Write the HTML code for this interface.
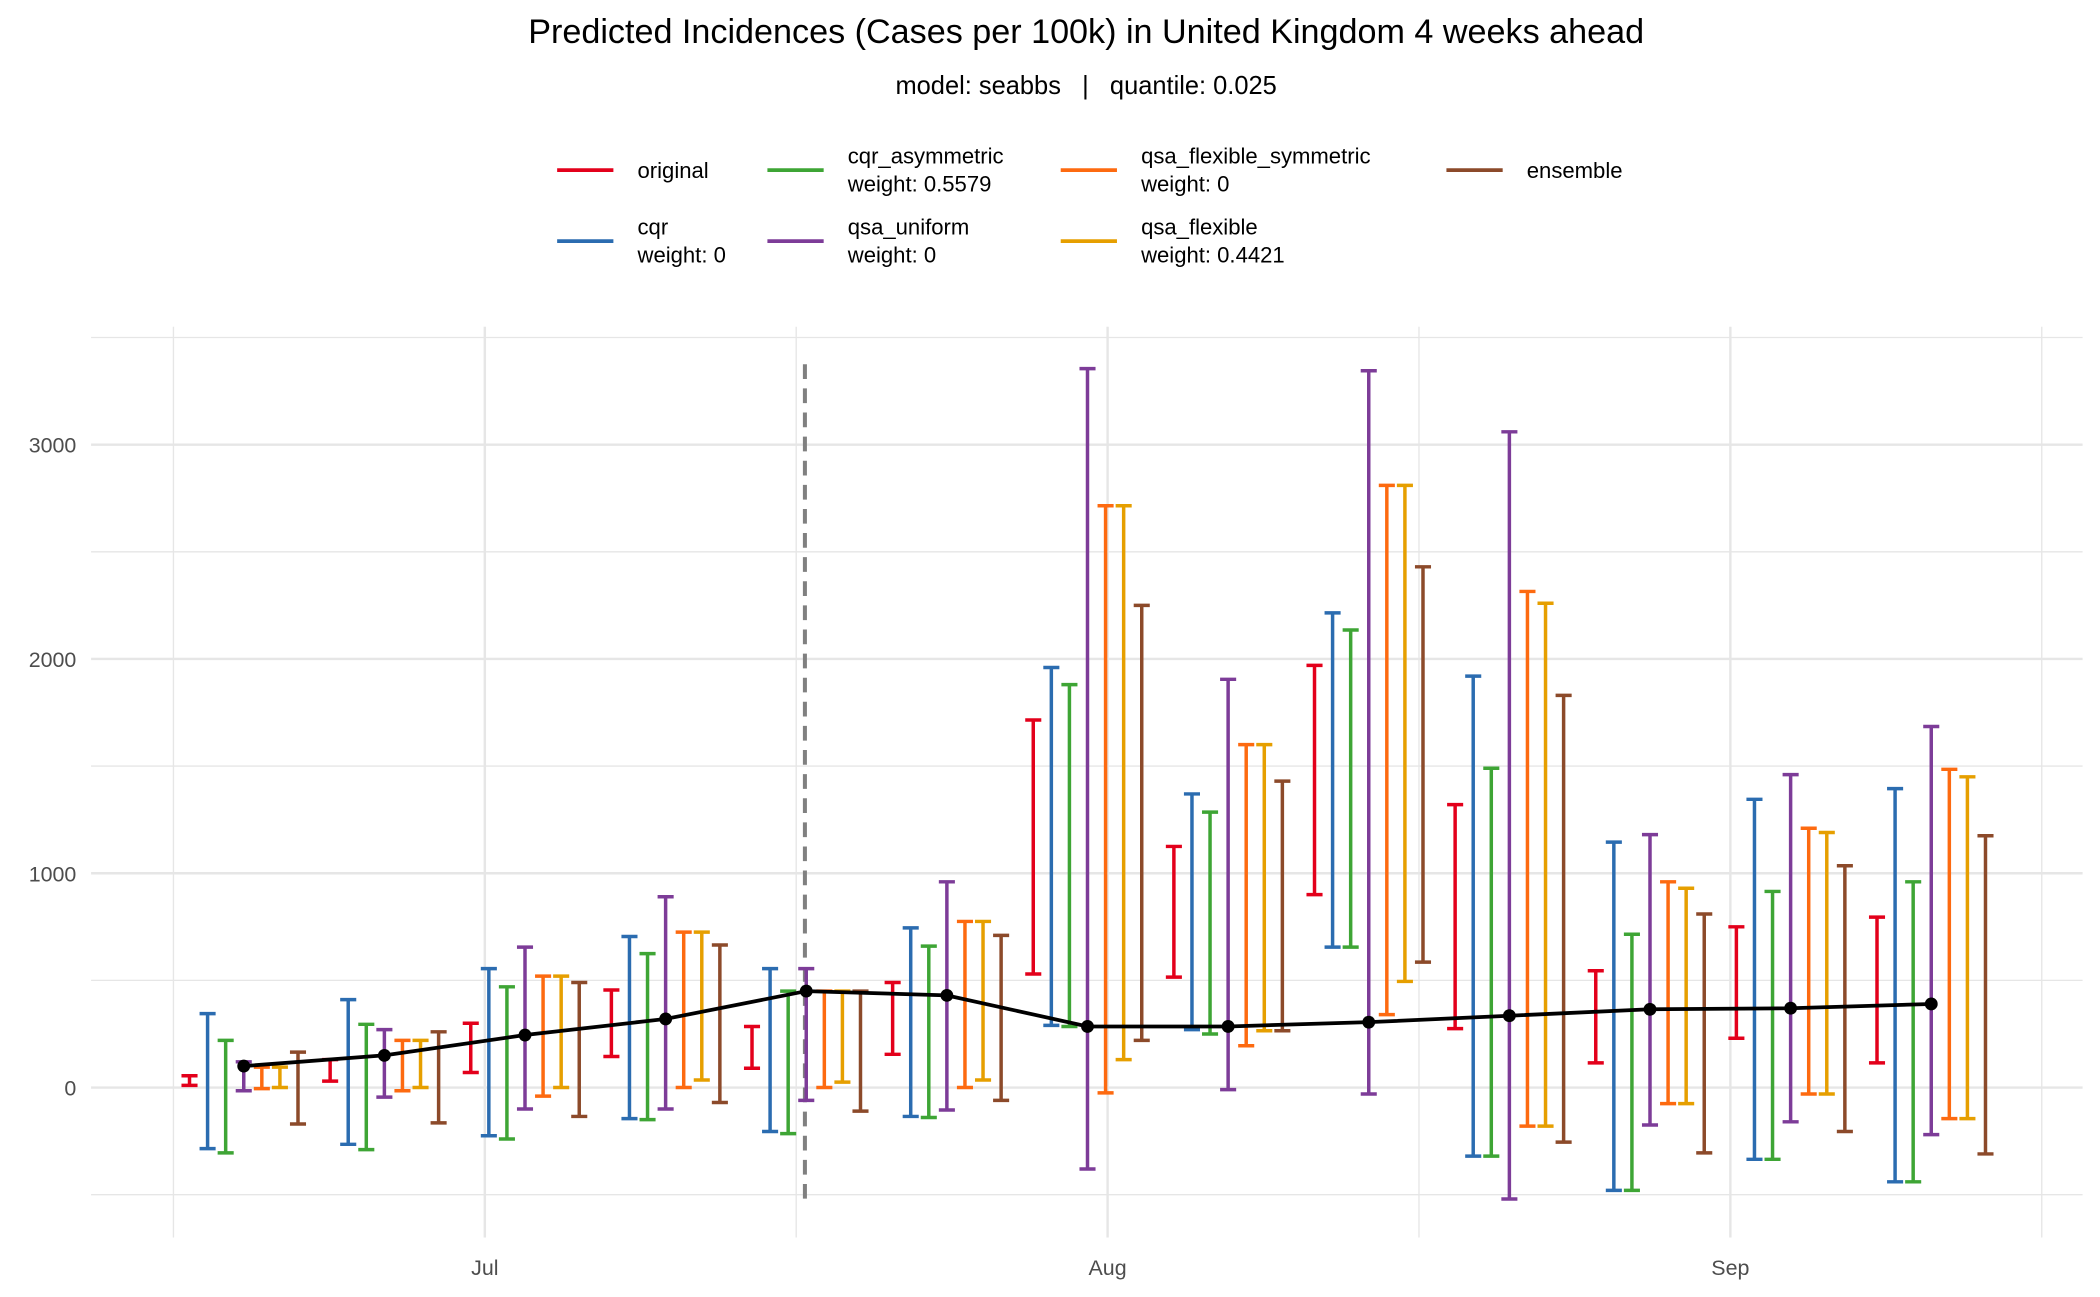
<!DOCTYPE html>
<html><head><meta charset="utf-8"><style>
html,body{margin:0;padding:0;background:#fff;}
svg{display:block;font-family:"Liberation Sans",Arial,sans-serif;}
</style></head><body>
<svg id="chart" width="2100" height="1297" viewBox="0 0 1568 968.4" xmlns="http://www.w3.org/2000/svg">
<text x="811" y="32" font-size="25.5" text-anchor="middle" fill="#000">Predicted Incidences (Cases per 100k) in United Kingdom 4 weeks ahead</text>
<text x="811" y="70" font-size="19" text-anchor="middle" fill="#000" style="white-space:pre" xml:space="preserve">model: seabbs   |   quantile: 0.025</text>
<g id="legend" fill="#000"></g>
<g id="grid"></g>
<g id="marks"></g>
</svg>
<script>
const days = [-12,-5,2,9,16,23,30,37,44,51,58,65,72];
const truth = [100,150,245,320,450,430,285,285,305,335,365,370,390];
const models = ["original","cqr","cqr_asymmetric","qsa_uniform","qsa_flexible_symmetric","qsa_flexible","ensemble"];
const weights = ["","weight: 0","weight: 0.5579","weight: 0","weight: 0","weight: 0.4421",""];
const colors = ["#e3001b","#2b6cb0","#3ea535","#7d3c98","#fd6a10","#e69f00","#8c4a2a"];
const lowOriginal = [10,30,70,145,90,155,530,515,900,275,115,230,115];
const upOriginal = [55,130,300,455,285,490,1715,1125,1970,1320,545,750,795];
const lowCqr = [-285,-265,-225,-145,-205,-135,290,270,655,-320,-480,-335,-440];
const upCqr = [345,410,555,705,555,745,1960,1370,2215,1920,1145,1345,1395];
const lowCqrAsym = [-305,-290,-240,-150,-215,-140,285,250,655,-320,-480,-335,-440];
const upCqrAsym = [220,295,470,625,450,660,1880,1285,2135,1490,715,915,960];
const lowUniform = [-15,-45,-100,-100,-60,-105,-380,-10,-30,-520,-175,-160,-220];
const upUniform = [120,270,655,890,555,960,3355,1905,3345,3060,1180,1460,1685];
const lowFlexSym = [-5,-15,-40,0,0,0,-25,195,340,-180,-75,-30,-145];
const upFlexSym = [95,220,520,725,450,775,2715,1600,2810,2315,960,1210,1485];
const lowFlex = [0,0,0,35,25,35,130,265,495,-180,-75,-30,-145];
const upFlex = [95,220,520,725,450,775,2715,1600,2810,2260,930,1190,1450];
const lowEns = [-170,-165,-135,-70,-110,-60,220,265,585,-255,-305,-205,-310];
const upEns = [165,260,490,665,450,710,2250,1430,2430,1830,810,1035,1175];
const yTicks = [0,1000,2000,3000];
const xTickDays = [0,31,62];
const xTickLabels = ["Jul","Aug","Sep"];
const forecastDay = 16;

const lows=[lowOriginal,lowCqr,lowCqrAsym,lowUniform,lowFlexSym,lowFlex,lowEns];
const ups=[upOriginal,upCqr,upCqrAsym,upUniform,upFlexSym,upFlex,upEns];
const NS="http://www.w3.org/2000/svg";
const x = d => 362 + d*15.0;
const y = v => 812 - v*0.16;
function mk(tag, attrs, parent){const e=document.createElementNS(NS,tag);for(const k in attrs)e.setAttribute(k,attrs[k]);parent.appendChild(e);return e;}
const grid=document.getElementById('grid'), marks=document.getElementById('marks'), legend=document.getElementById('legend');
for(let v=-500; v<=3500; v+=500){
  const l=mk('line',{x1:68,x2:1555,y1:y(v),y2:y(v),stroke:'#e6e6e6','stroke-width':(v%1000===0)?1.8:1},grid);
  
  
}
for(let d=-15.5; d<=80; d+=31){
  const l=mk('line',{x1:x(d),x2:x(d),y1:244,y2:924,stroke:'#e6e6e6','stroke-width':1},grid);
  
  
}
xTickDays.forEach((d,i)=>{
  const l=mk('line',{x1:x(d),x2:x(d),y1:244,y2:924,stroke:'#e6e6e6','stroke-width':1.8},grid);
  
  
  const t=mk('text',{x:x(d),y:952,'font-size':16,'text-anchor':'middle',fill:'#4d4d4d'},grid);
  t.textContent=xTickLabels[i];
  
  
});
yTicks.forEach(v=>{
  const t=mk('text',{x:57,y:y(v)+6,'font-size':16,'text-anchor':'end',fill:'#4d4d4d'},grid);
  t.textContent=String(v);
  
  
});
const fl=mk('line',{x1:x(forecastDay)-1,x2:x(forecastDay)-1,y1:y(3375),y2:y(-520),stroke:'#808080','stroke-width':3,'stroke-dasharray':'11,7'},marks);


models.forEach((m,mi)=>{
  const off=(mi-3)*0.9;
  days.forEach((d,i)=>{
    const cx=x(d+off), y1=y(lows[mi][i]), y2=y(ups[mi][i]);
    const g=mk('g',{stroke:colors[mi],'stroke-width':2.6,fill:'none'},marks);
    
    
    mk('line',{x1:cx,x2:cx,y1:y1,y2:y2},g);
    mk('line',{x1:cx-6,x2:cx+6,y1:y1,y2:y1},g);
    mk('line',{x1:cx-6,x2:cx+6,y1:y2,y2:y2},g);
  });
});
const tl=mk('polyline',{points:days.map((d,i)=>x(d)+','+y(truth[i])).join(' '),fill:'none',stroke:'#000','stroke-width':2.8},marks);


days.forEach((d,i)=>{
  const c=mk('circle',{cx:x(d),cy:y(truth[i]),r:4.8,fill:'#000'},marks);
  
  
});
const lpos=[[416,127],[416,180],[573,127],[573,180],[792,127],[792,180],[1080,127]];
models.forEach((m,mi)=>{
  const [lx,ly]=lpos[mi];
  const g=mk('g',{},legend);
  
  
  mk('line',{x1:lx,x2:lx+42,y1:ly,y2:ly,stroke:colors[mi],'stroke-width':2.8},g);
  if(weights[mi]){
    const t1=mk('text',{x:lx+60,y:ly-5,'font-size':16.5},g); t1.textContent=m;
    const t2=mk('text',{x:lx+60,y:ly+16,'font-size':16.5},g); t2.textContent=weights[mi];
  } else {
    const t=mk('text',{x:lx+60,y:ly+6,'font-size':16.5},g); t.textContent=m;
  }
});
</script>
</body></html>
